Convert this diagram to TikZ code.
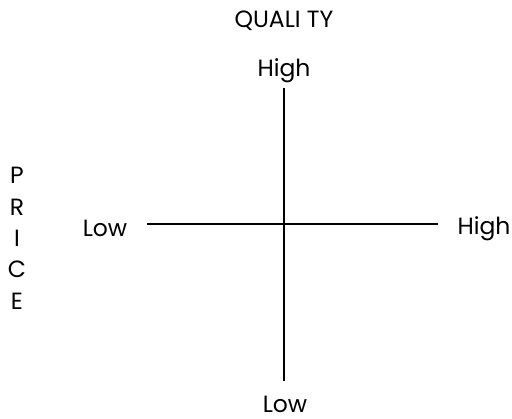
\documentclass[tikz,border=0pt]{standalone}
\usepackage{fontspec}
\setmainfont{Poppins}
\usetikzlibrary{positioning}

\begin{document}
\begin{tikzpicture}[
  x=1pt, y=1pt,
  axis/.style={line width=1.6pt, black},
  lbl/.style={inner sep=0pt, anchor=base, font=\fontsize{23.5}{26}\selectfont}
]
\useasboundingbox (0,0) rectangle (512,419);

% Axis ends
\coordinate (qtop) at (284,331);
\coordinate (qbot) at (284,38);
\coordinate (pleft) at (147,195);
\coordinate (pright) at (438,195);

% Axes
\draw [axis] (qtop) -- (qbot);
\draw [axis] (pleft) -- (pright);

% Labels
\node (quality) [lbl] at (284,391) {QUALI TY};
\node (hightop) [lbl] at (284,342) {High};
\node (lowbot) [lbl, text depth=0pt] at (285,6) {Low};
\node (lowleft) [lbl] at (105,182) {Low};
\node (highright) [lbl] at (484,184) {High};
\foreach \ch [count=\i] in {P,R,I,C,E}
  \node (price\i) [lbl] at (17,{235-31.3*(\i-1)}) {\ch};

\end{tikzpicture}
\end{document}
